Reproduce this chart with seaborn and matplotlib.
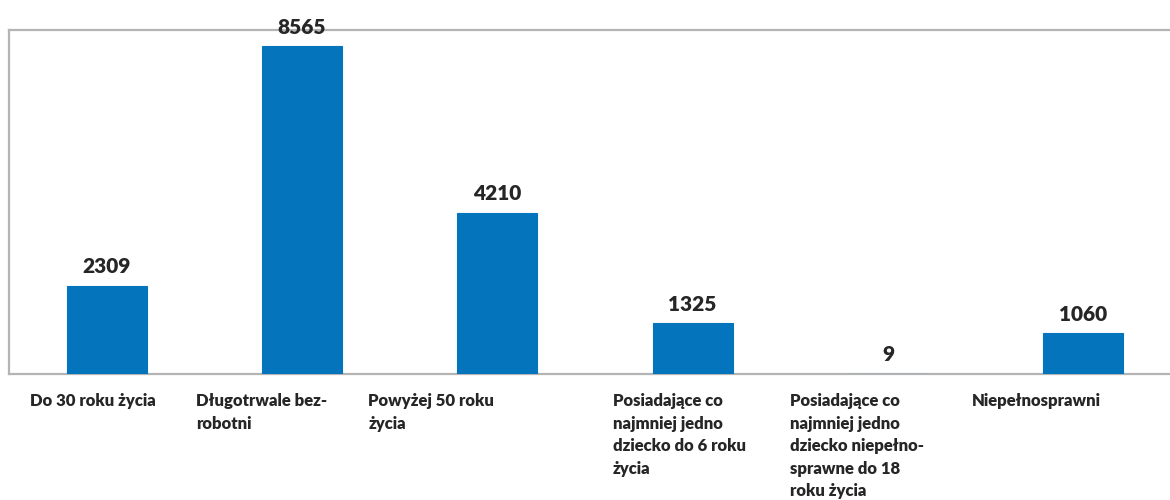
import matplotlib.pyplot as plt
import pandas as pd
import seaborn as sns

categories = [
    'Do 30 roku życia',
    'Długotrwale bez-\nrobotni',
    'Powyżej 50 roku\nżycia',
    'Posiadające co\nnajmniej jedno\ndziecko do 6 roku\nżycia',
    'Posiadające co\nnajmniej jedno\ndziecko niepełno-\nsprawne do 18\nroku życia',
    'Niepełnosprawni',
]
values = [2309, 8565, 4210, 1325, 9, 1060]

# where each wrapped label starts, left of the bar centre (in category units)
label_shift = [0.394, 0.543, 0.66, 0.41, 0.50, 0.57]

df = pd.DataFrame({'cat': range(len(values)), 'val': values})

sns.set_style('white')
plt.rcParams['font.family'] = ['Lato', 'DejaVu Sans']

fig = plt.figure(figsize=(11.7, 5), dpi=100)
ax = fig.add_axes([9 / 1170, 1 - 374 / 500, 1172 / 1170, 344 / 500])

sns.barplot(x='cat', y='val', data=df, color='#0474BC', width=0.41,
            saturation=1, ax=ax, order=range(len(values)),
            edgecolor='#0474BC', linewidth=0.8)
for p in ax.patches:
    p.set_zorder(3)

ax.set_ylim(0, 8990)
ax.set_xlim(-0.5, len(values) - 0.5)
ax.set_xlabel('')
ax.set_ylabel('')
ax.set_yticks([])
ax.set_xticks([])

for side in ['left', 'top', 'bottom', 'right']:
    ax.spines[side].set_color('#B4B4B4')
    ax.spines[side].set_linewidth(1.6)
ax.spines['right'].set_visible(False)

for i, v in enumerate(values):
    ax.annotate(str(v), (i, v), xytext=(0, 7), textcoords='offset points',
                ha='center', va='bottom', fontsize=15, fontweight='heavy')

for i, lab in enumerate(categories):
    ax.annotate(lab, (i - label_shift[i], 0), xytext=(0, -14),
                textcoords='offset points', ha='left', va='top',
                fontsize=12, fontweight='heavy', linespacing=1.5,
                annotation_clip=False)

fig.savefig('out.png', dpi=100)
